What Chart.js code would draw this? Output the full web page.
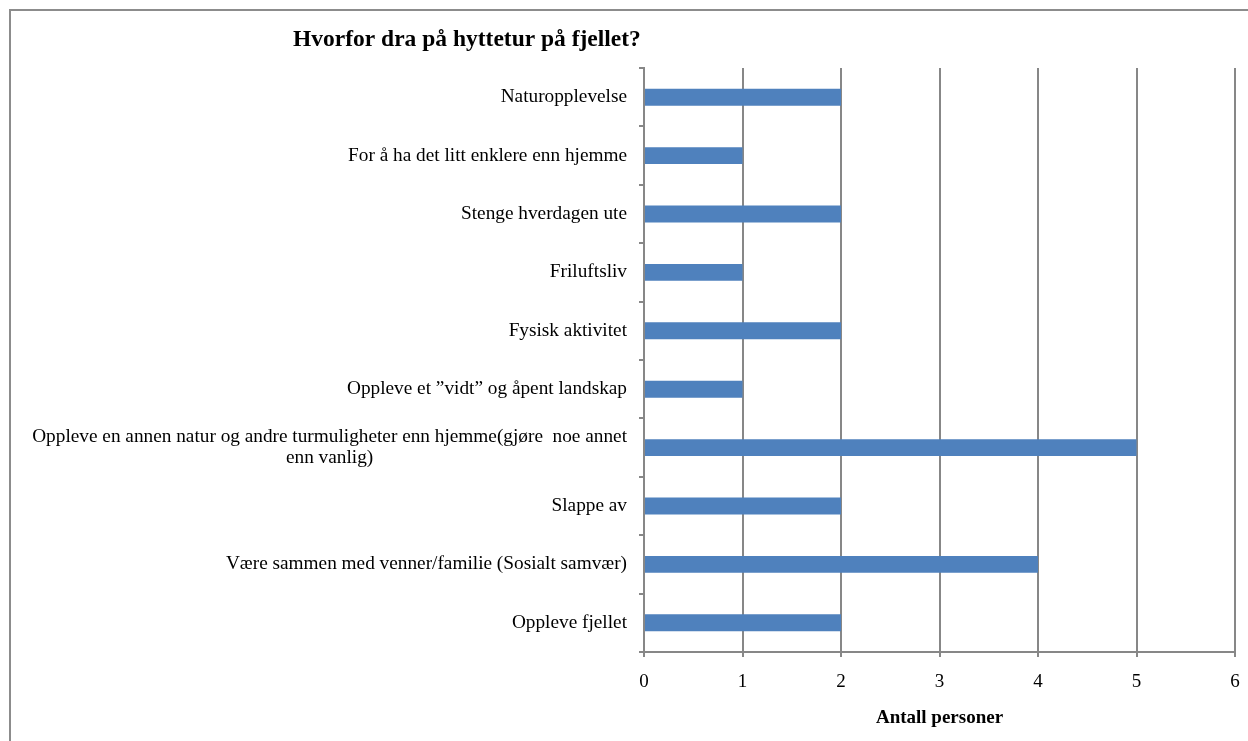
<!DOCTYPE html>
<html>
<head>
<meta charset="utf-8">
<script src="https://cdn.jsdelivr.net/npm/chart.js@4"></script>
<style>
  html, body { margin: 0; padding: 0; background: #fff; }
  #wrap { width: 1248px; height: 741px; position: relative; }
</style>
</head>
<body>
<div id="wrap"><canvas id="c" width="1248" height="741"></canvas></div>
<script>
const titleText = "Hvorfor dra på hyttetur på fjellet?";
const axisTitle = "Antall personer";
const categories = [
  ["Naturopplevelse"],
  ["For å ha det litt enklere enn hjemme"],
  ["Stenge hverdagen ute"],
  ["Friluftsliv"],
  ["Fysisk aktivitet"],
  ["Oppleve et ”vidt” og åpent landskap"],
  ["Oppleve en annen natur og andre turmuligheter enn hjemme(gjøre  noe annet", "enn vanlig)"],
  ["Slappe av"],
  ["Være sammen med venner/familie (Sosialt samvær)"],
  ["Oppleve fjellet"]
];
const values = [2, 1, 2, 1, 2, 1, 5, 2, 4, 2];
const xTicks = [0, 1, 2, 3, 4, 5, 6];

const SERIF = '"Liberation Serif", "Times New Roman", serif';
const GRID = '#878787';

const decor = {
  id: 'decor',
  afterDraw(chart) {
    const ctx = chart.ctx;
    const ys = chart.scales.y;
    ctx.save();
    // outer border
    ctx.strokeStyle = '#8c8c8c';
    ctx.lineWidth = 2;
    ctx.beginPath();
    ctx.moveTo(10, 745);
    ctx.lineTo(10, 10);
    ctx.lineTo(1260, 10);
    ctx.stroke();
    // title
    ctx.fillStyle = '#000';
    ctx.font = 'bold 23.5px ' + SERIF;
    ctx.textAlign = 'left';
    ctx.textBaseline = 'middle';
    ctx.fillText(titleText, 293, 40);
    // category labels
    ctx.font = '19.3px ' + SERIF;
    const right = ys.right - 17;
    const lh = 21;
    categories.forEach((lines, i) => {
      const y = ys.getPixelForValue(i);
      if (lines.length === 1) {
        ctx.textAlign = 'right';
        ctx.fillText(lines[0], right, y);
      } else {
        const w = ctx.measureText(lines[0]).width;
        const cx = right - w / 2;
        ctx.textAlign = 'center';
        lines.forEach((ln, k) => {
          ctx.fillText(ln, cx, y + (k - (lines.length - 1) / 2) * lh);
        });
      }
    });
    ctx.restore();
  }
};

new Chart(document.getElementById('c'), {
  type: 'bar',
  data: {
    labels: categories.map(l => l.join(' ')),
    datasets: [{
      data: values,
      backgroundColor: '#4F81BD',
      borderWidth: 0,
      barPercentage: 0.58,
      categoryPercentage: 0.5
    }]
  },
  options: {
    indexAxis: 'y',
    responsive: false,
    animation: false,
    devicePixelRatio: 1,
    layout: { padding: { top: 68, right: 13, left: 0, bottom: 0 } },
    plugins: { legend: { display: false }, tooltip: { enabled: false }, title: { display: false } },
    scales: {
      y: {
        type: 'category',
        offset: true,
        afterFit: s => { s.width = 644; },
        ticks: { display: false },
        grid: { offset: true, drawOnChartArea: false, drawTicks: true, tickLength: 5, color: GRID, lineWidth: 2 },
        border: { display: true, color: GRID, width: 2 }
      },
      x: {
        min: 0,
        max: 6,
        afterBuildTicks: s => { s.ticks = xTicks.map(v => ({ value: v })); },
        afterFit: s => { s.height = 89; s.paddingRight = 0; s.paddingLeft = 0; },
        ticks: { color: '#000', font: { family: SERIF, size: 19 }, padding: 14, maxRotation: 0 },
        grid: { color: GRID, lineWidth: 2, drawTicks: true, tickLength: 5 },
        border: { display: true, color: GRID, width: 2 },
        title: { display: true, text: axisTitle, color: '#000', font: { family: SERIF, size: 19, weight: 'bold' }, padding: { top: 0, bottom: 12 } }
      }
    }
  },
  plugins: [decor]
});
</script>
</body>
</html>
